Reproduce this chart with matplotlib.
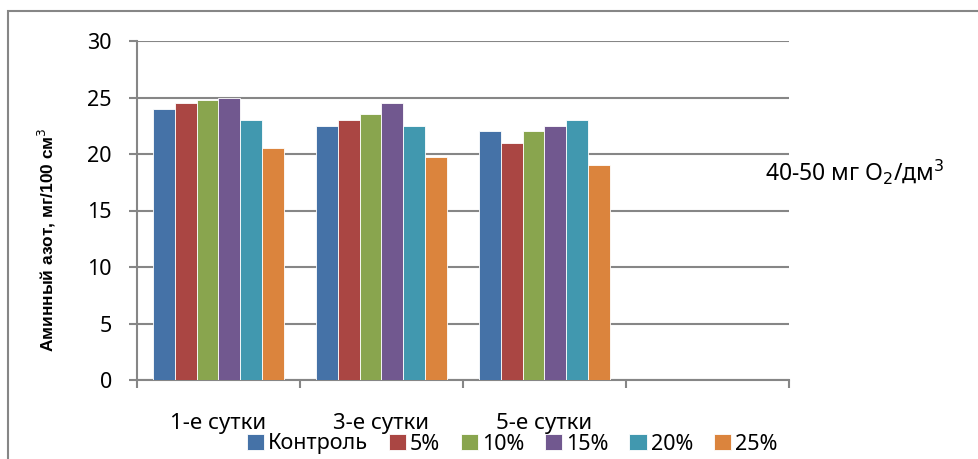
import matplotlib
matplotlib.use("Agg")
import matplotlib.pyplot as plt
from matplotlib.patches import Rectangle
import numpy as np

# data
categories = ["1-е сутки", "3-е сутки", "5-е сутки", ""]
series_names = ["Контроль", "5%", "10%", "15%", "20%", "25%"]
kontrol = [24.0, 22.5, 22.0]
p5 = [24.5, 23.0, 21.0]
p10 = [24.8, 23.5, 22.0]
p15 = [25.0, 24.5, 22.5]
p20 = [23.0, 22.5, 23.0]
p25 = [20.5, 19.7, 19.0]
colors = ["#4572A7", "#AA4643", "#89A54E", "#71588F", "#4198AF", "#DB843D"]
yticks = [0, 5, 10, 15, 20, 25, 30]

plt.rcParams['font.family'] = ['Noto Sans', 'DejaVu Sans']
grey = "#868686"

fig = plt.figure(figsize=(9.79, 4.59), dpi=100)
W, H = 979, 459
ax = fig.add_axes([137 / W, 1 - 380 / H, (789 - 137) / W, (380 - 41) / H])

all_series = [kontrol, p5, p10, p15, p20, p25]
n = len(all_series)
bw = 1 / (n + 1.5)
x = np.arange(len(kontrol))
for i, (vals, name, c) in enumerate(zip(all_series, series_names, colors)):
    ax.bar(x - 0.5 + 0.75 * bw + (i + 0.5) * bw, vals, width=bw, color=c,
           edgecolor="white", linewidth=0.6, label=name, zorder=3)

ax.set_xlim(-0.5, len(categories) - 0.5)
ax.set_ylim(0, 30)
ax.set_yticks(yticks)
ax.yaxis.grid(True, color=grey, linewidth=1.5, zorder=0)
for s in ["top", "right"]:
    ax.spines[s].set_visible(False)
for s in ["left", "bottom"]:
    ax.spines[s].set_color(grey)
    ax.spines[s].set_linewidth(1.5)

# category boundaries carry the tick marks, labels sit at centres
ax.set_xticks(np.arange(len(categories)))
ax.set_xticklabels(categories, fontsize=16)
ax.tick_params(axis="x", which="major", length=0, pad=24)
ax.set_xticks(np.arange(len(categories) + 1) - 0.5, minor=True)
ax.tick_params(axis="x", which="minor", length=6, width=1.5, color=grey)
ax.tick_params(axis="y", length=6, width=1.5, color=grey, labelsize=15.5, pad=12)

fig.text(47 / W, 1 - 240 / H, "Аминный азот, мг/100 см$^3$", rotation=90,
         fontsize=12.5, fontweight="bold", family=["Liberation Sans", "DejaVu Sans"],
         ha="center", va="center")
fig.text(855 / W, 1 - 172 / H, "40-50 мг O$_2$/дм$^3$", fontsize=16.5,
         ha="center", va="center")

fig.legend(loc="center", bbox_to_anchor=(512 / W, 1 - 444 / H), ncol=6,
           frameon=False, fontsize=15.5, handlelength=0.8, handleheight=0.8,
           handletextpad=0.2, columnspacing=0.95, borderpad=0)

fig.patches.append(Rectangle((8 / W, -0.1), 1.2, 1 - 11 / H + 0.1,
                             transform=fig.transFigure, fill=False,
                             edgecolor=grey, linewidth=1.5))

fig.savefig("out.png", dpi=100)
